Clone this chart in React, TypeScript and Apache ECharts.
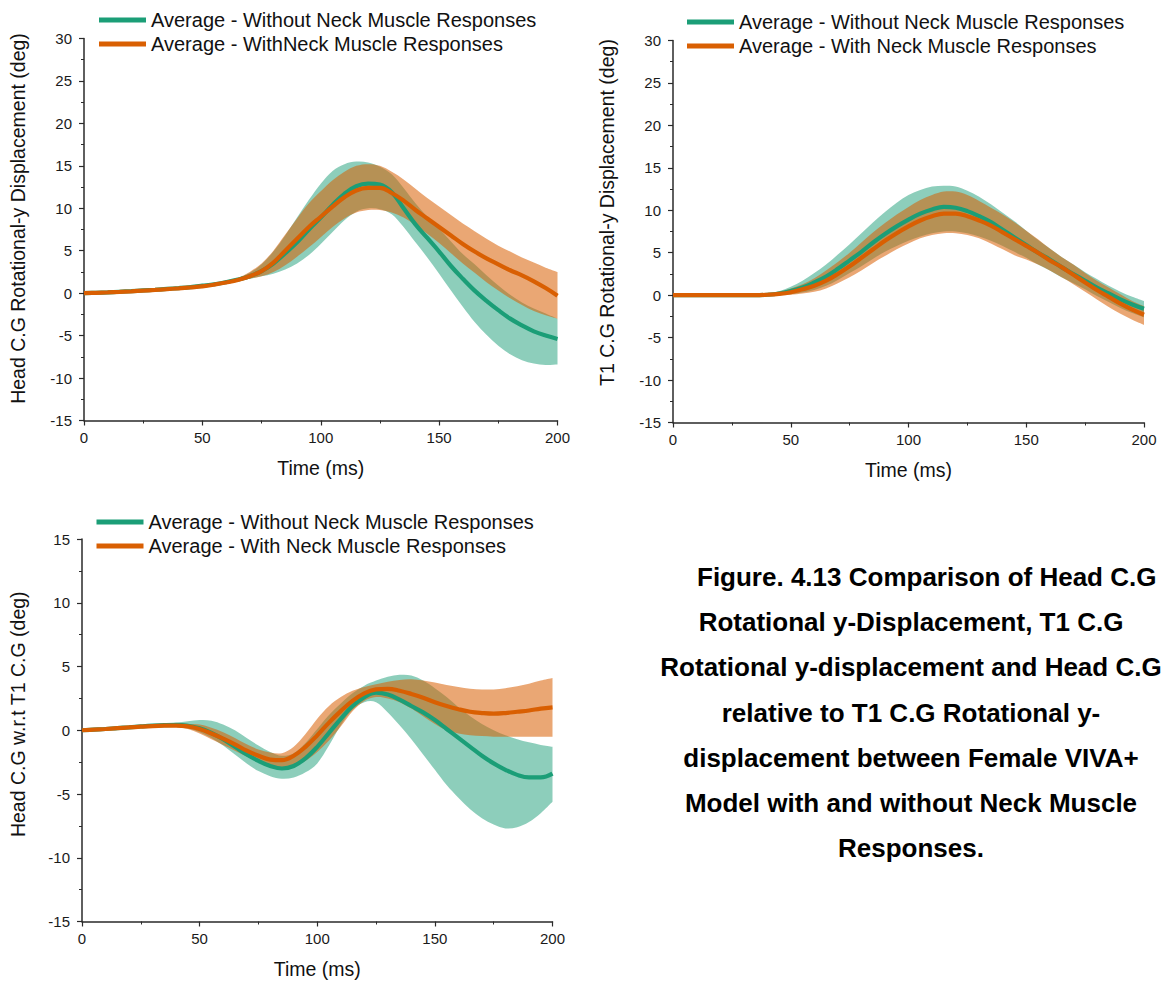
import React, { useEffect, useRef } from "react";
import * as echarts from "echarts";

// ---------- DATA ----------
const TIME = [0, 5, 10, 15, 20, 25, 30, 35, 40, 45, 50, 55, 60, 65, 70, 75, 80, 85, 90, 95, 100, 105, 110, 115, 120, 125, 130, 135, 140, 145, 150, 155, 160, 165, 170, 175, 180, 185, 190, 195, 200];

const X_TICKS = [0, 50, 100, 150, 200];

// Chart 1: Head C.G Rotational-y Displacement
const HEAD_WITHOUT_MEAN = [0, 0.05, 0.1, 0.17, 0.24, 0.32, 0.4, 0.5, 0.6, 0.72, 0.88, 1.05, 1.3, 1.6, 2.0, 2.6, 3.5, 4.7, 6.0, 7.5, 8.9, 10.4, 11.7, 12.6, 12.9, 12.8, 11.9, 10.0, 8.1, 6.5, 4.9, 3.2, 1.7, 0.3, -0.9, -2.0, -3.0, -3.8, -4.5, -5.0, -5.4];
const HEAD_WITHOUT_LOW = [0, 0.03, 0.07, 0.13, 0.2, 0.27, 0.34, 0.43, 0.52, 0.63, 0.76, 0.92, 1.15, 1.4, 1.7, 2.0, 2.3, 2.8, 3.5, 4.5, 5.8, 7.2, 8.6, 9.6, 10.0, 9.9, 9.3, 7.8, 6.0, 4.2, 2.3, 0.3, -1.6, -3.4, -4.9, -6.2, -7.2, -7.9, -8.3, -8.45, -8.4];
const HEAD_WITHOUT_HIGH = [0, 0.07, 0.13, 0.21, 0.29, 0.37, 0.46, 0.57, 0.68, 0.82, 0.98, 1.18, 1.45, 1.8, 2.4, 3.4, 4.9, 6.8, 8.9, 11.0, 12.9, 14.4, 15.2, 15.5, 15.4, 14.9, 14.0, 12.4, 10.6, 9.0, 7.6, 6.1, 4.6, 3.4, 2.1, 0.9, -0.2, -1.1, -1.8, -2.4, -3.0];
const HEAD_WITH_MEAN = [0, 0.04, 0.09, 0.15, 0.22, 0.3, 0.38, 0.47, 0.57, 0.68, 0.8, 1.0, 1.25, 1.55, 2.0, 2.6, 3.6, 5.0, 6.4, 7.8, 9.0, 10.2, 11.3, 12.1, 12.4, 12.4, 11.8, 10.9, 9.8, 8.8, 7.8, 6.8, 5.8, 4.9, 4.1, 3.4, 2.7, 2.1, 1.4, 0.6, -0.3];
const HEAD_WITH_LOW = [0, 0.02, 0.06, 0.11, 0.18, 0.25, 0.32, 0.4, 0.49, 0.59, 0.7, 0.87, 1.1, 1.4, 1.7, 2.0, 2.5, 3.3, 4.3, 5.4, 6.6, 7.8, 8.8, 9.5, 9.8, 9.8, 9.5, 8.9, 8.0, 7.0, 5.9, 4.7, 3.5, 2.4, 1.3, 0.3, -0.6, -1.4, -2.1, -2.6, -3.0];
const HEAD_WITH_HIGH = [0, 0.06, 0.12, 0.19, 0.26, 0.35, 0.44, 0.54, 0.65, 0.77, 0.9, 1.13, 1.4, 1.8, 2.5, 3.5, 5.0, 6.9, 8.8, 10.6, 12.0, 13.3, 14.3, 15.0, 15.2, 15.0, 14.3, 13.4, 12.3, 11.2, 10.2, 9.2, 8.2, 7.3, 6.4, 5.6, 4.9, 4.2, 3.6, 3.0, 2.5];

// Chart 2: T1 C.G Rotational-y Displacement
const T1_WITHOUT_MEAN = [0, 0, 0, 0, 0, 0, 0, 0, 0.05, 0.2, 0.5, 0.9, 1.5, 2.2, 3.1, 4.1, 5.1, 6.2, 7.2, 8.1, 8.9, 9.6, 10.1, 10.4, 10.3, 9.9, 9.3, 8.6, 7.7, 6.8, 5.9, 5.0, 4.2, 3.3, 2.5, 1.7, 0.9, 0.2, -0.5, -1.1, -1.6];
const T1_WITHOUT_LOW = [0, 0, 0, 0, 0, 0, 0, -0.05, -0.05, 0, 0.1, 0.3, 0.6, 1.1, 1.8, 2.6, 3.4, 4.3, 5.1, 5.8, 6.4, 6.9, 7.3, 7.5, 7.5, 7.3, 6.9, 6.4, 5.8, 5.1, 4.4, 3.6, 2.9, 2.1, 1.4, 0.7, -0.1, -0.8, -1.5, -2.1, -2.6];
const T1_WITHOUT_HIGH = [0, 0, 0, 0, 0, 0, 0, 0.05, 0.15, 0.45, 1.0, 1.7, 2.6, 3.6, 4.8, 6.0, 7.3, 8.6, 9.8, 10.9, 11.8, 12.4, 12.8, 12.9, 12.8, 12.3, 11.6, 10.7, 9.7, 8.7, 7.6, 6.5, 5.5, 4.5, 3.6, 2.7, 1.9, 1.1, 0.4, -0.2, -0.7];
const T1_WITH_MEAN = [0, 0, 0, 0, 0, 0, 0, 0, 0.05, 0.15, 0.35, 0.7, 1.1, 1.7, 2.5, 3.4, 4.4, 5.4, 6.4, 7.3, 8.1, 8.8, 9.3, 9.6, 9.6, 9.3, 8.8, 8.2, 7.4, 6.6, 5.8, 5.0, 4.1, 3.3, 2.4, 1.5, 0.6, -0.2, -1.0, -1.7, -2.3];
const T1_WITH_LOW = [0, 0, 0, 0, 0, 0, 0, -0.05, -0.05, 0, 0.05, 0.2, 0.4, 0.8, 1.4, 2.1, 2.9, 3.8, 4.6, 5.4, 6.1, 6.7, 7.1, 7.3, 7.3, 7.1, 6.7, 6.1, 5.4, 4.7, 4.2, 3.6, 2.9, 2.1, 1.3, 0.4, -0.5, -1.4, -2.2, -2.9, -3.5];
const T1_WITH_HIGH = [0, 0, 0, 0, 0, 0, 0, 0.05, 0.15, 0.35, 0.8, 1.3, 2.0, 2.9, 3.9, 5.0, 6.2, 7.4, 8.5, 9.5, 10.4, 11.2, 11.8, 12.2, 12.2, 11.8, 11.1, 10.3, 9.5, 8.6, 7.6, 6.6, 5.5, 4.5, 3.6, 2.6, 1.7, 0.9, 0.1, -0.7, -1.3];

// Chart 3: Head C.G w.r.t T1 C.G
const REL_WITHOUT_MEAN = [0, 0.05, 0.1, 0.17, 0.23, 0.3, 0.36, 0.4, 0.42, 0.35, 0.15, -0.2, -0.7, -1.3, -1.9, -2.4, -2.8, -3.0, -2.8, -2.2, -1.3, -0.2, 0.9, 1.9, 2.6, 2.95, 2.8, 2.4, 1.9, 1.4, 0.8, 0.1, -0.6, -1.3, -2.0, -2.6, -3.1, -3.5, -3.7, -3.7, -3.4];
const REL_WITHOUT_LOW = [0, 0.03, 0.07, 0.13, 0.19, 0.25, 0.3, 0.32, 0.3, 0.15, -0.15, -0.6, -1.2, -1.9, -2.6, -3.2, -3.6, -3.8, -3.7, -3.3, -2.6, -1.2, 0.4, 1.6, 2.2, 2.2, 1.4, 0.4, -0.7, -1.9, -3.1, -4.3, -5.3, -6.2, -6.9, -7.4, -7.7, -7.6, -7.2, -6.5, -5.6];
const REL_WITHOUT_HIGH = [0, 0.07, 0.13, 0.21, 0.28, 0.36, 0.43, 0.5, 0.58, 0.7, 0.8, 0.75, 0.45, 0, -0.6, -1.2, -1.7, -2.0, -1.8, -1.0, 0.1, 1.2, 2.1, 2.9, 3.5, 3.9, 4.2, 4.35, 4.3, 3.9, 3.3, 2.6, 1.8, 1.1, 0.5, 0, -0.4, -0.7, -0.95, -1.15, -1.3];
const REL_WITH_MEAN = [0, 0.05, 0.1, 0.16, 0.22, 0.28, 0.33, 0.36, 0.37, 0.3, 0.1, -0.25, -0.65, -1.1, -1.6, -2.0, -2.3, -2.35, -2.0, -1.3, -0.4, 0.6, 1.5, 2.3, 2.9, 3.2, 3.25, 3.1, 2.85, 2.55, 2.2, 1.9, 1.65, 1.45, 1.35, 1.3, 1.35, 1.45, 1.55, 1.7, 1.8];
const REL_WITH_LOW = [0, 0.03, 0.07, 0.12, 0.18, 0.23, 0.27, 0.28, 0.26, 0.1, -0.25, -0.7, -1.15, -1.6, -2.05, -2.45, -2.75, -2.9, -2.8, -2.4, -1.7, -0.8, 0.3, 1.5, 2.3, 2.6, 2.5, 2.2, 1.7, 1.1, 0.5, 0.0, -0.25, -0.4, -0.45, -0.5, -0.5, -0.5, -0.5, -0.5, -0.5];
const REL_WITH_HIGH = [0, 0.07, 0.13, 0.2, 0.26, 0.33, 0.39, 0.44, 0.48, 0.5, 0.45, 0.2, -0.15, -0.6, -1.1, -1.5, -1.75, -1.8, -1.3, -0.3, 0.9, 1.9, 2.6, 3.1, 3.4, 3.6, 3.8, 3.95, 4.0, 3.9, 3.75, 3.55, 3.4, 3.25, 3.2, 3.2, 3.3, 3.45, 3.65, 3.9, 4.1];

const NAME_WITHOUT = "Average - Without Neck Muscle Responses";
const NAME_WITH = "Average - With Neck Muscle Responses";
const NAME_WITH_TYPO = "Average - WithNeck Muscle Responses";

const Y_TITLES = [
  "Head C.G Rotational-y Displacement (deg)",
  "T1 C.G Rotational-y Displacement (deg)",
  "Head C.G w.r.t T1 C.G (deg)",
];
const X_TITLE = "Time (ms)";

const CAPTION_LINES = [
  "Figure. 4.13 Comparison of Head C.G",
  "Rotational y-Displacement, T1 C.G",
  "Rotational y-displacement and Head C.G",
  "relative to T1 C.G Rotational y-",
  "displacement between Female VIVA+",
  "Model with and without Neck Muscle",
  "Responses.",
];

// ---------- STYLE ----------
const FONT = '"Liberation Sans", Arial, Helvetica, sans-serif';
const GREEN = "#1b9e77";
const ORANGE = "#d95f02";
const AXIS_COLOR = "#2a2a2a";

const pairs = (ys: number[]) => TIME.map((t, i) => [t, ys[i]]);

// Smooth (Catmull-Rom) path through pixel points
function smoothSegs(pts: number[][], startWithMove: boolean): string {
  let d = startWithMove ? `M${pts[0][0]},${pts[0][1]}` : `L${pts[0][0]},${pts[0][1]}`;
  for (let i = 0; i < pts.length - 1; i++) {
    const p0 = pts[i - 1] || pts[i];
    const p1 = pts[i];
    const p2 = pts[i + 1];
    const p3 = pts[i + 2] || p2;
    const c1x = p1[0] + (p2[0] - p0[0]) / 6;
    const c1y = p1[1] + (p2[1] - p0[1]) / 6;
    const c2x = p2[0] - (p3[0] - p1[0]) / 6;
    const c2y = p2[1] - (p3[1] - p1[1]) / 6;
    d += `C${c1x},${c1y},${c2x},${c2y},${p2[0]},${p2[1]}`;
  }
  return d;
}

function band(idx: number, lo: number[], hi: number[], color: string, opacity: number) {
  return {
    type: "custom",
    xAxisIndex: idx,
    yAxisIndex: idx,
    silent: true,
    clip: true,
    data: TIME.map((t, i) => [t, lo[i], hi[i]]),
    encode: { x: 0, y: [1, 2] },
    renderItem: (params: any, api: any) => {
      if (params.dataIndex !== 0) return null;
      const upper = TIME.map((t, i) => api.coord([t, hi[i]]));
      const lower = TIME.map((t, i) => api.coord([t, lo[i]])).reverse();
      const d = smoothSegs(upper, true) + smoothSegs(lower, false) + "Z";
      return {
        type: "path",
        shape: { pathData: d },
        style: { fill: color, opacity, stroke: null },
      };
    },
    z: 2,
  };
}

function meanLine(name: string, idx: number, ys: number[], color: string) {
  return {
    type: "line",
    name,
    xAxisIndex: idx,
    yAxisIndex: idx,
    data: pairs(ys),
    symbol: "none",
    smooth: 0.4,
    silent: true,
    lineStyle: { color, width: 4.2 },
    itemStyle: { color },
    emphasis: { disabled: true },
    z: 2,
  };
}

const tickStyle = {
  axisLine: { show: true, onZero: false, lineStyle: { color: AXIS_COLOR, width: 1.5 } },
  axisTick: { show: true, length: 5, lineStyle: { color: AXIS_COLOR, width: 1.2 } },
  minorTick: { show: true, splitNumber: 2, length: 3, lineStyle: { color: AXIS_COLOR, width: 1 } },
  splitLine: { show: false },
  minorSplitLine: { show: false },
};

function xAxis(idx: number) {
  return {
    type: "value",
    gridIndex: idx,
    min: X_TICKS[0],
    max: X_TICKS[X_TICKS.length - 1],
    interval: X_TICKS[1] - X_TICKS[0],
    name: X_TITLE,
    nameLocation: "middle",
    nameGap: 37,
    nameTextStyle: { fontSize: 19.5, color: "#111", fontFamily: FONT },
    axisLabel: { fontSize: 15, color: "#1a1a1a", fontFamily: FONT, margin: 9 },
    ...tickStyle,
  };
}

function yAxis(idx: number, min: number, max: number, gap: number, shift: number) {
  return {
    type: "value",
    gridIndex: idx,
    min,
    max,
    interval: 5,
    name: Y_TITLES[idx],
    nameLocation: "middle",
    nameGap: gap,
    nameTextStyle: { fontSize: 19.5, color: "#111", fontFamily: FONT, padding: [0, 0, 0, shift] },
    axisLabel: { fontSize: 15, color: "#1a1a1a", fontFamily: FONT, margin: 12 },
    ...tickStyle,
  };
}

function legend(left: number, top: number, names: string[]) {
  return {
    left,
    top,
    orient: "vertical",
    padding: 0,
    itemWidth: 47,
    itemHeight: 5,
    itemGap: 4,
    icon: "rect",
    selectedMode: false,
    textStyle: { fontSize: 20, color: "#111", fontFamily: FONT },
    data: names,
  };
}

export default function App() {
  const ref = useRef<HTMLDivElement>(null);

  useEffect(() => {
    if (!ref.current) return;
    const chart = echarts.init(ref.current, undefined, { renderer: "svg" });

    const series: any[] = [
      band(0, HEAD_WITHOUT_LOW, HEAD_WITHOUT_HIGH, GREEN, 0.5),
      meanLine(NAME_WITHOUT, 0, HEAD_WITHOUT_MEAN, GREEN),
      band(0, HEAD_WITH_LOW, HEAD_WITH_HIGH, ORANGE, 0.55),
      meanLine(NAME_WITH_TYPO, 0, HEAD_WITH_MEAN, ORANGE),

      band(1, T1_WITHOUT_LOW, T1_WITHOUT_HIGH, GREEN, 0.5),
      meanLine(NAME_WITHOUT, 1, T1_WITHOUT_MEAN, GREEN),
      band(1, T1_WITH_LOW, T1_WITH_HIGH, ORANGE, 0.55),
      meanLine(NAME_WITH, 1, T1_WITH_MEAN, ORANGE),

      band(2, REL_WITHOUT_LOW, REL_WITHOUT_HIGH, GREEN, 0.5),
      meanLine(NAME_WITHOUT, 2, REL_WITHOUT_MEAN, GREEN),
      band(2, REL_WITH_LOW, REL_WITH_HIGH, ORANGE, 0.55),
      meanLine(NAME_WITH, 2, REL_WITH_MEAN, ORANGE),
    ];

    const caption = CAPTION_LINES.map((line, i) => ({
      type: "text",
      x: i === 0 ? 697 : 911,
      y: 577 + 45.2 * i,
      style: {
        text: line,
        font: `bold 26px ${FONT}`,
        fill: "#000",
        textAlign: i === 0 ? "left" : "center",
        textVerticalAlign: "middle",
      },
    }));

    chart.setOption({
      animation: false,
      backgroundColor: "#fff",
      grid: [
        { left: 84, top: 38.5, width: 473.5, height: 382 },
        { left: 673, top: 40.5, width: 471, height: 382 },
        { left: 82, top: 539, width: 470.5, height: 382.5 },
      ],
      xAxis: [xAxis(0), xAxis(1), xAxis(2)],
      yAxis: [yAxis(0, -15, 30, 56, 22), yAxis(1, -15, 30, 56, 38), yAxis(2, -15, 15, 54, 32)],
      legend: [
        legend(99, 10, [NAME_WITHOUT, NAME_WITH_TYPO]),
        legend(687, 12, [NAME_WITHOUT, NAME_WITH]),
        legend(96.5, 512, [NAME_WITHOUT, NAME_WITH]),
      ],
      series,
      graphic: caption,
    });

    return () => chart.dispose();
  }, []);

  return (
    <div
      ref={ref}
      style={{ position: "absolute", left: 0, top: 0, width: 1161, height: 981, background: "#fff" }}
    />
  );
}
